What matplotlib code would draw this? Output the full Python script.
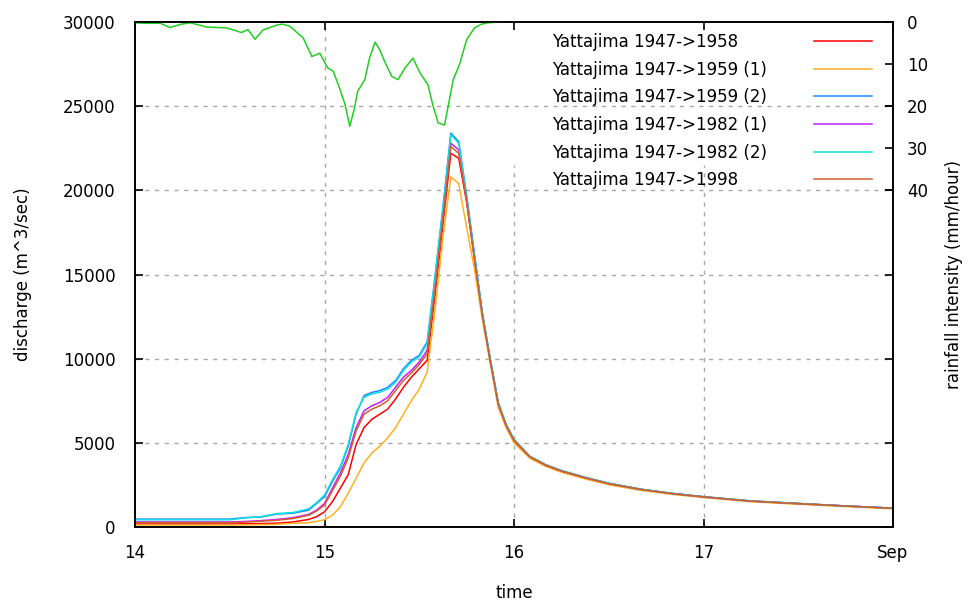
import numpy as np
import matplotlib
matplotlib.use("Agg")
import matplotlib.pyplot as plt

# time in hours after Sep 14 00:00
hours = [0, 12, 14, 16, 18, 20, 22, 23, 24, 25, 26, 27, 28, 29, 30, 31, 32, 33,
         34, 35, 36, 37, 38, 39, 40, 41, 42, 43, 44, 45, 46, 47, 48, 50, 52, 54,
         57, 60, 64, 68, 72, 78, 84, 90, 96]

# discharge (m^3/sec)
q_1958 = [180, 180, 190, 200, 230, 300, 450, 610, 900, 1500, 2300, 3100, 4900, 5900,
          6400, 6700, 7000, 7600, 8300, 8900, 9400, 9900, 13800, 18000, 22200, 21900,
          19300, 15900, 12500, 9800, 7300, 6000, 5100, 4150, 3650, 3300, 2900, 2550,
          2220, 1970, 1780, 1530, 1380, 1240, 1110]
q_1959a = [120, 120, 130, 140, 160, 220, 260, 330, 430, 700, 1200, 2000, 2900, 3800,
           4400, 4800, 5300, 5900, 6700, 7500, 8200, 9200, 12900, 17200, 20800, 20400,
           17800, 15300, 12300, 9700, 7100, 5900, 5000, 4080, 3600, 3250, 2860, 2510,
           2180, 1940, 1750, 1500, 1350, 1210, 1080]
q_1959b = [470, 470, 560, 600, 770, 820, 1000, 1400, 1800, 2700, 3500, 4800, 6700,
           7800, 8000, 8100, 8300, 8700, 9400, 9900, 10200, 11000, 14900, 19000, 23400,
           22900, 19700, 16200, 12700, 10000, 7400, 6100, 5200, 4200, 3700, 3350, 2950,
           2600, 2250, 2000, 1800, 1550, 1400, 1250, 1120]
q_1982a = [300, 300, 330, 380, 450, 550, 750, 1000, 1400, 2300, 3200, 4300, 5900,
           6900, 7200, 7400, 7700, 8300, 8900, 9300, 9800, 10500, 14400, 18600, 22800,
           22400, 19500, 16000, 12600, 9900, 7350, 6050, 5150, 4180, 3680, 3330, 2930,
           2580, 2240, 1990, 1790, 1540, 1390, 1250, 1120]
q_1982b = [430, 430, 540, 620, 800, 860, 1080, 1450, 1900, 2800, 3600, 4900, 6800,
           7700, 7900, 8000, 8200, 8600, 9300, 9800, 10100, 10900, 14800, 18900, 23300,
           22800, 19600, 16100, 12650, 9950, 7400, 6100, 5200, 4200, 3700, 3350, 2950,
           2600, 2250, 2000, 1800, 1550, 1400, 1250, 1120]
q_1998 = [260, 260, 290, 340, 400, 500, 700, 950, 1300, 2150, 3000, 4100, 5700, 6700,
          7000, 7200, 7500, 8100, 8700, 9150, 9650, 10300, 14200, 18400, 22600, 22200,
          19400, 15900, 12550, 9850, 7300, 6050, 5150, 4180, 3680, 3330, 2930, 2580,
          2240, 1990, 1790, 1540, 1390, 1250, 1110]

labels = ["Yattajima 1947->1958", "Yattajima 1947->1959 (1)",
          "Yattajima 1947->1959 (2)", "Yattajima 1947->1982 (1)",
          "Yattajima 1947->1982 (2)", "Yattajima 1947->1998"]
colors = ["#ff0000", "#ffb020", "#2088ff", "#c020ff", "#10e0e0", "#d0602a"]

# rainfall intensity (mm/hour)
rain_hours = [0, 1.0, 3.2, 4.4, 5.9, 7.0, 9.1, 11.6, 13.5, 14.3, 15.2, 16.2, 18.0,
              18.7, 19.6, 21.3, 22.4, 23.4, 24.4, 25.1, 25.9, 26.6, 27.2, 27.8, 28.2,
              29.1, 29.7, 30.4, 31.0, 31.6, 32.5, 33.3, 34.2, 35.2, 36.1, 37.1, 37.7,
              38.4, 39.2, 39.7, 40.3, 41.1, 42.0, 43.0, 43.9, 44.7, 46.0]
rain = [0.2, 0.3, 0.3, 1.3, 0.5, 0.2, 1.2, 1.4, 2.5, 1.8, 4.1, 1.9, 0.7,
        0.5, 1.0, 3.8, 8.2, 7.4, 10.9, 11.7, 15.7, 19.6, 24.8, 20.4, 16.5,
        13.7, 8.6, 4.8, 6.6, 9.3, 12.9, 13.7, 10.9, 8.6, 12.1, 14.9, 19.6,
        24.0, 24.5, 19.6, 13.7, 10.1, 4.2, 1.4, 0.5, 0.2, 0.0]

xticks = [14, 15, 16, 17, 18]
xticklabels = ["14", "15", "16", "17", "Sep"]

plt.rcParams["font.family"] = "DejaVu Sans"
fig = plt.figure(figsize=(9.69, 6.03), dpi=100)
fig.subplots_adjust(left=135/969, right=893/969, bottom=1-527/603, top=1-22/603)
ax = fig.add_subplot(111)
ax2 = ax.twinx()

t = 14 + np.array(hours) / 24.0
series = [q_1958, q_1959a, q_1959b, q_1982a, q_1982b, q_1998]
for q, lab, c in zip(series, labels, colors):
    ax.plot(t, q, color=c, lw=1.1, label=lab)

ax2.plot(14 + np.array(rain_hours) / 24.0, rain, color="#20d020", lw=1.1)

ax.set_xlim(14, 18)
ax.set_ylim(0, 30000)
ax.set_yticks(range(0, 30001, 5000))
ax.set_xticks(xticks)
ax.set_xticklabels(xticklabels)
ax2.set_ylim(120, 0)
ax2.set_yticks([0, 10, 20, 30, 40])

# grid (gnuplot hides the upper part of the vertical lines behind the key)
gstyle = dict(color="#a8a8a8", lw=1.0, ls=(0, (3, 4)), zorder=0)
for yv in range(5000, 30000, 5000):
    ax.axhline(yv, **gstyle)
ax.axvline(15, **gstyle)
ax.axvline(16, ymax=0.717, **gstyle)
ax.axvline(17, ymax=0.717, **gstyle)

ax.tick_params(direction="in", length=6, width=1.2, top=True, right=True,
               labelsize=12, pad=12)
ax.tick_params(axis="y", pad=14)
ax2.tick_params(direction="in", length=6, width=1.2, labelsize=12, pad=10)
for a in (ax, ax2):
    for s in a.spines.values():
        s.set_linewidth(1.2)

ax.set_xlabel("time", fontsize=12, labelpad=16)
ax.set_ylabel("discharge (m^3/sec)", fontsize=12, labelpad=22)
ax2.set_ylabel("rainfall intensity (mm/hour)", fontsize=12, labelpad=12)

# gnuplot style key: texts left aligned, line samples in a column on the right
h, l = ax.get_legend_handles_labels()
kw = dict(frameon=False, fontsize=12, labelspacing=0.58, borderpad=0,
          borderaxespad=0, bbox_transform=fig.transFigure)
leg_txt = ax2.legend(h, l, loc="upper left", bbox_to_anchor=(552/969, 1-33/603),
                     handlelength=0, handletextpad=0, **kw)
for lh in leg_txt.legend_handles:
    lh.set_visible(False)
ax2.add_artist(leg_txt)
ax2.legend(h, [""] * len(h), loc="upper right", bbox_to_anchor=(872/969, 1-33/603),
           handlelength=3.5, handletextpad=0, **kw)

fig.savefig("out.png", dpi=100)
